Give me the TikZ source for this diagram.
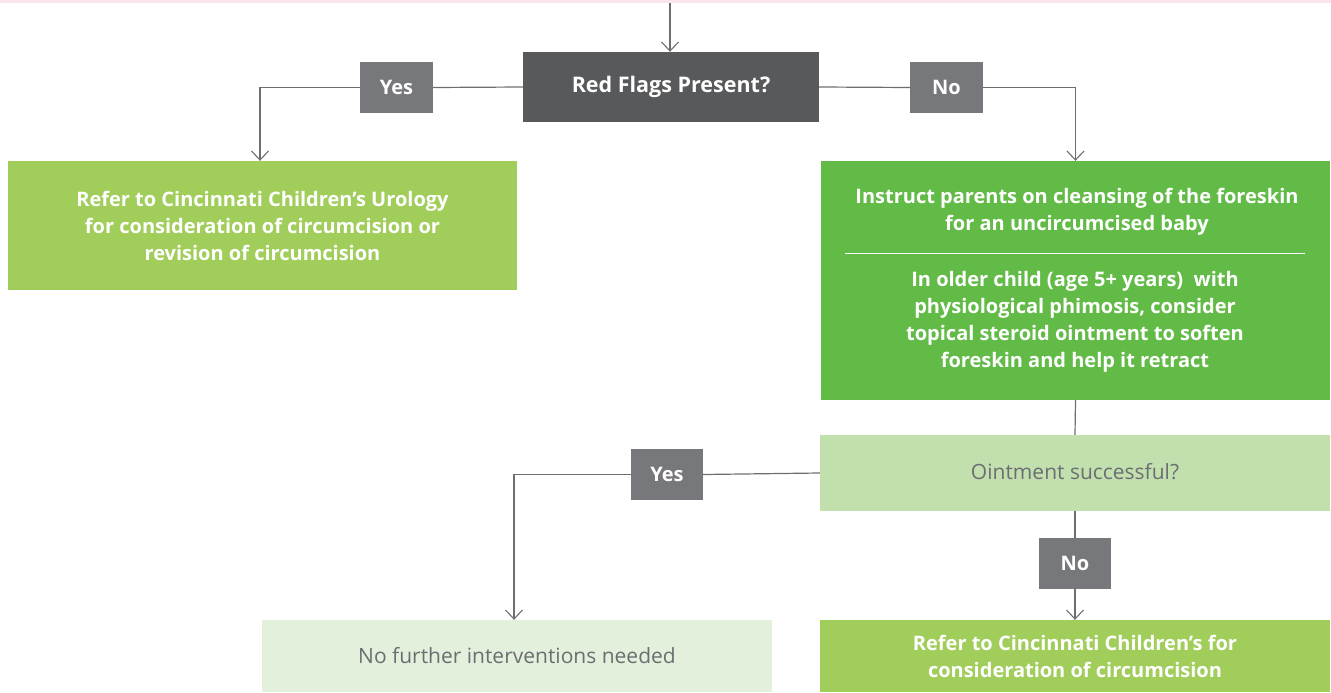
\documentclass[tikz,border=0pt]{standalone}
\usepackage{fontspec}
\setmainfont{Open Sans}
\usetikzlibrary{arrows.meta}
\definecolor{pinkband}{HTML}{FCE4EC}
\definecolor{darkbox}{HTML}{58595B}
\definecolor{labelbox}{HTML}{77787B}
\definecolor{lightgreen}{HTML}{A1CD5A}
\definecolor{midgreen}{HTML}{62BB46}
\definecolor{palegreen}{HTML}{C1E0AE}
\definecolor{palestgreen}{HTML}{E3F0DC}
\definecolor{linegray}{HTML}{6D6E71}
\definecolor{textgray}{HTML}{6D6E71}
\tikzset{
  x=1pt, y=-1pt,
  box/.style={rectangle, inner sep=0pt, align=center, font=\fontsize{20}{27}\selectfont\bfseries, text=white},
  graybox/.style={box, font=\fontsize{21}{27}\selectfont, text=textgray},
  lbl/.style={box, fill=labelbox, minimum width=73pt, minimum height=51pt, font=\fontsize{20}{22}\selectfont\bfseries},
  conn/.style={draw=linegray, line width=1.2pt},
  arr/.style={conn, -{Straight Barb[length=9pt, width=17pt, line width=1.1pt]}},
}
\begin{document}
\begin{tikzpicture}
\useasboundingbox (0,0) rectangle (1331,693);
\fill[pinkband] (0,0) rectangle (1331,3);

\node[box, fill=darkbox, minimum width=296pt, minimum height=70pt, font=\fontsize{21.5}{27}\selectfont\bfseries] (rf) at (671,87) {\raisebox{3pt}{Red Flags Present?}};
\node[lbl] (yes1) at (396.5,87.5) {Yes};
\node[lbl] (no1) at (946.5,87.5) {No};
\node[box, fill=lightgreen, minimum width=509pt, minimum height=129pt] (lg) at (262.5,225.5)
  {Refer to Cincinnati Children’s Urology\\for consideration of circumcision or\\revision of circumcision};
\node[box, fill=midgreen, minimum width=509pt, minimum height=239pt] (rg) at (1075.5,280.5) {};
\node[box] (rgt1) at (1077,212) {Instruct parents on cleansing of the foreskin\\for an uncircumcised baby};
\node[box] (rgt2) at (1075,321.5) {In older child (age 5+ years)\ \ with\\physiological phimosis, consider\\topical steroid ointment to soften\\foreskin and help it retract};
\draw[white, line width=0.9pt] (845,253) -- (1305,253);
\node[graybox, fill=palegreen, minimum width=510pt, minimum height=76pt] (oi) at (1075,473) {\raisebox{3pt}{Ointment successful?}};
\node[lbl, minimum width=72pt] (yes2) at (667,474.5) {Yes};
\node[lbl, minimum width=72pt] (no2) at (1075,563.5) {No};
\node[graybox, fill=palestgreen, minimum width=510pt, minimum height=72pt] (nf) at (517,656) {No further interventions needed};
\node[box, fill=lightgreen, minimum width=510pt, minimum height=72pt] (rb) at (1075,656) {Refer to Cincinnati Children’s for\\consideration of circumcision};

\coordinate (top) at (670,3);
\draw[arr] (top) -- (rf.north -| top);
\draw[conn] (rf.west) -- (yes1.east);
\draw[arr] (yes1.west) -| ([xshift=-2.5pt]lg.north);
\draw[conn] (rf.east) -- (no1.west);
\draw[arr] (no1.east) -| (rg.north);
\draw[conn] (rg.south) -- (oi.north);
\draw[conn] (oi.west) -- (yes2.east);
\draw[arr] (yes2.west) -| ([xshift=-3pt]nf.north);
\draw[conn] (oi.south) -- (no2.north);
\draw[arr] (no2.south) -- (rb.north);
\end{tikzpicture}
\end{document}
